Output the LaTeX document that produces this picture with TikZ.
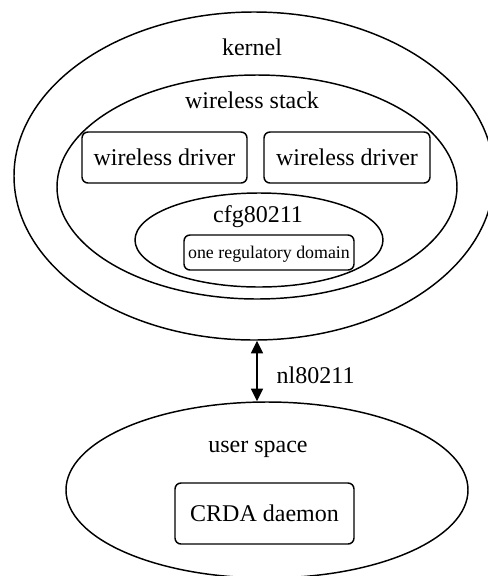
\documentclass[tikz,border=0pt]{standalone}
\usepackage{fontspec}
\setmainfont{Liberation Serif}
\usetikzlibrary{shapes.geometric,arrows.meta,calc}
\begin{document}
\begin{tikzpicture}[x=0.75pt,y=-0.75pt,
  line width=1.1pt,
  region/.style={draw, ellipse, inner sep=0pt},
  box/.style={draw, rounded corners=4.5pt, inner sep=0pt, font=\fontsize{18}{20}\selectfont},
  smallbox/.style={box, font=\fontsize{13.4}{15}\selectfont},
  lbl/.style={anchor=base, inner sep=0pt, font=\fontsize{18}{20}\selectfont},
  link/.style={arrows={Triangle[width=9pt,length=9.5pt]-Triangle[width=9pt,length=9.5pt]}}
]
\useasboundingbox (0,0) rectangle (488,576);
% regions
\node[region, minimum width=360pt, minimum height=246pt] (kernel) at (254,176) {};
\node[region, minimum width=300pt, minimum height=168pt] (stack) at (257,187) {};
\node[region, minimum width=186pt, minimum height=70.5pt] (cfg) at (259,240) {};
\node[region, minimum width=301.5pt, minimum height=132pt] (user) at (267,490) {};
% region titles
\node[lbl] (kernellbl) at (252,55) {kernel};
\node[lbl] (stacklbl) at (252,108) {wireless stack};
\node[lbl] (cfglbl) at (258,222) {cfg80211};
\node[lbl] (userlbl) at (258,452) {user space};
% boxes
\node[box, minimum width=123.75pt, minimum height=38.25pt] (drv1) at (164.5,157.5) {wireless driver};
\node[box, minimum width=124.5pt, minimum height=38.25pt] (drv2) at (347,157.5) {wireless driver};
\node[smallbox, minimum width=127.5pt, minimum height=26.25pt, text depth=0pt] (reg) at (269,252.5) {one regulatory domain};
\node[box, minimum width=134.25pt, minimum height=45.75pt] (crda) at (264.5,513.5) {CRDA daemon};
% connector
\draw[link] ($(kernel.south)+(3,0)$) -- ($(user.north)+(-10,0)$);
\node[lbl, anchor=base west] (nl) at (276,383) {nl80211};
\end{tikzpicture}
\end{document}
